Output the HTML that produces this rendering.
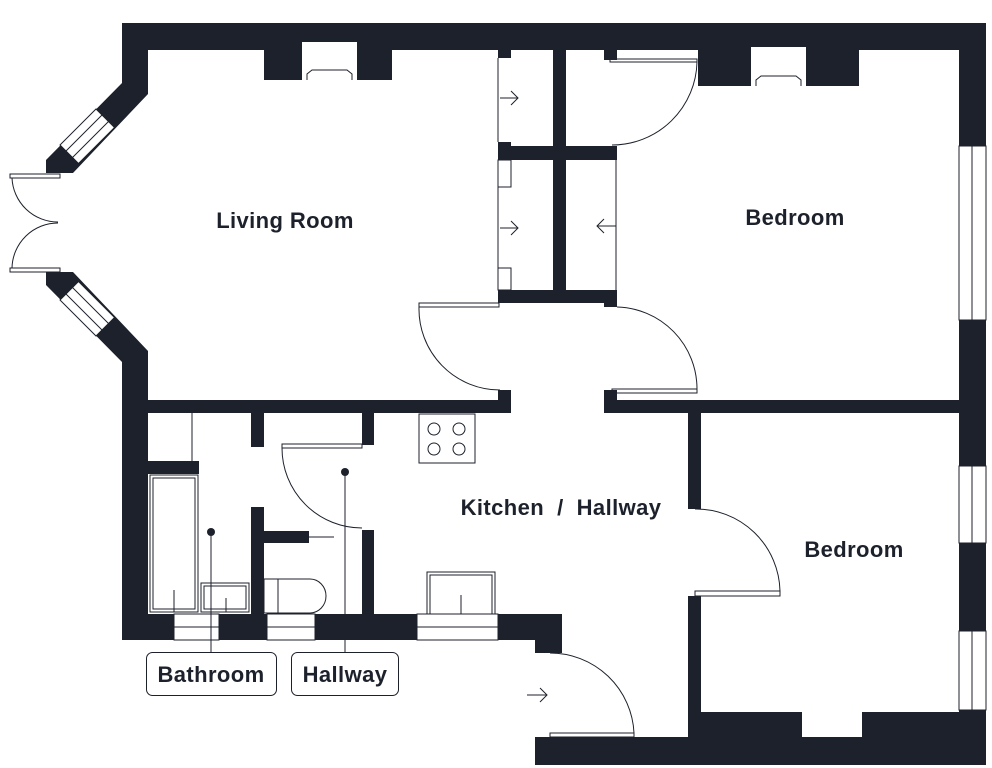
<!DOCTYPE html>
<html><head><meta charset="utf-8"><style>
html,body{margin:0;padding:0;background:#fff;}
svg{display:block}
text{font-family:"Liberation Sans",sans-serif;font-weight:bold;fill:#1c212b;letter-spacing:0.4px;}
</style></head><body>
<svg width="992" height="768" viewBox="0 0 992 768" xmlns="http://www.w3.org/2000/svg">
<g fill="#1c212b">
<rect x="122" y="23" width="864" height="27"/>
<polygon points="122,23 148,23 148,94 73,173 46,173 46,160 122,83"/>
<polygon points="122,640 148,640 148,351 73,272 46,272 46,285 122,362"/>
<rect x="959" y="23" width="27" height="742"/>
<rect x="264" y="50" width="128" height="30"/>
<rect x="698" y="50" width="161" height="36"/>
<rect x="553" y="50" width="13" height="253"/>
<rect x="498" y="146" width="119" height="14"/>
<rect x="498" y="290" width="119" height="13"/>
<rect x="498" y="50" width="13" height="8"/>
<rect x="498" y="142" width="13" height="18"/>
<rect x="604" y="50" width="13" height="10"/>
<rect x="604" y="290" width="13" height="17"/>
<rect x="148" y="400" width="363" height="13"/>
<rect x="498" y="390" width="13" height="23"/>
<rect x="604" y="400" width="355" height="13"/>
<rect x="604" y="390" width="13" height="23"/>
<rect x="688" y="413" width="13" height="96"/>
<rect x="688" y="596" width="13" height="141"/>
<rect x="535" y="737" width="451" height="28"/>
<rect x="701" y="712" width="101" height="25"/>
<rect x="862" y="712" width="97" height="25"/>
<rect x="251" y="413" width="13" height="34"/>
<rect x="362" y="413" width="12" height="32"/>
<rect x="122" y="461" width="77" height="13"/>
<rect x="251" y="507" width="13" height="107"/>
<rect x="264" y="531" width="45" height="12"/>
<rect x="362" y="530" width="12" height="84"/>
<rect x="122" y="614" width="440" height="26"/>
<rect x="535" y="614" width="27" height="39"/>
</g>
<g fill="#fff" stroke="#1c212b" stroke-width="1">
<rect x="302" y="42" width="55" height="38" stroke="none"/>
<rect x="751" y="47" width="55" height="39" stroke="none"/>
<rect x="174" y="614" width="45" height="26"/>
<rect x="267" y="614" width="48" height="26"/>
<rect x="417" y="614" width="81" height="26"/>
<rect x="959" y="146" width="27" height="174"/>
<rect x="959" y="466" width="27" height="77"/>
<rect x="959" y="631" width="27" height="79"/>
<rect x="802" y="712" width="60" height="25" stroke="none"/>
<polygon points="96,109 114.5,127.5 78.5,163.5 60,145"/>
<polygon points="96,336 114.5,317.5 78.5,281.5 60,300"/>
</g>
<g fill="none" stroke="#1c212b" stroke-width="1">
<path d="M307 80 L307 74 L312 70 L347 70 L352 74 L352 80"/>
<path d="M756 86 L756 80 L761 76 L796 76 L801 80 L801 86"/>
<line x1="174" y1="627" x2="219" y2="627"/>
<line x1="267" y1="627" x2="315" y2="627"/>
<line x1="417" y1="627" x2="498" y2="627"/>
<line x1="972" y1="146" x2="972" y2="320"/>
<line x1="972" y1="466" x2="972" y2="543"/>
<line x1="972" y1="631" x2="972" y2="710"/>
<line x1="102" y1="115" x2="66" y2="151"/>
<line x1="108.5" y1="121.5" x2="72.5" y2="157.5"/>
<line x1="102" y1="330" x2="66" y2="294"/>
<line x1="108.5" y1="323.5" x2="72.5" y2="287.5"/>
<rect x="10" y="174" width="50" height="4"/>
<rect x="10" y="268" width="50" height="4"/>
<path d="M12 178 A46 46 0 0 0 58 222"/>
<path d="M12 268 A46 46 0 0 1 58 223"/>
<line x1="498" y1="58" x2="498" y2="142"/>
<line x1="498" y1="160" x2="498" y2="290"/>
<rect x="498" y="160" width="13" height="27"/>
<rect x="498" y="268" width="13" height="22"/>
<path d="M500 98 L518 98 M511 91 L518 98 L511 105"/>
<path d="M500 228 L518 228 M511 221 L518 228 L511 235"/>
<line x1="616" y1="160" x2="616" y2="290"/>
<path d="M616 226 L597 226 M604 219 L597 226 L604 233"/>
<rect x="610" y="59" width="87" height="3"/>
<path d="M697 62 A85 85 0 0 1 612 145"/>
<rect x="419" y="303" width="80" height="4"/>
<path d="M419 307 A81 81 0 0 0 500 390"/>
<rect x="612" y="389" width="85" height="4"/>
<path d="M617 307 A82 82 0 0 1 697 389"/>
<rect x="695" y="591" width="85" height="5"/>
<path d="M695 509 A84 84 0 0 1 780 591"/>
<rect x="550" y="733" width="84" height="4"/>
<path d="M550 653 A84 84 0 0 1 634 733"/>
<path d="M527 695 L547 695 M540 688 L547 695 L540 702"/>
<rect x="282" y="444" width="80" height="4"/>
<path d="M282 448 A80 80 0 0 0 362 528"/>
<line x1="309" y1="537" x2="334" y2="537"/>
<line x1="192" y1="413" x2="192" y2="461"/>
<rect x="150" y="475" width="48" height="137"/>
<rect x="153" y="478" width="42" height="131"/>
<line x1="174" y1="590" x2="174" y2="612"/>
<rect x="201" y="583" width="48" height="29"/>
<rect x="204" y="586" width="42" height="23"/>
<line x1="226" y1="598" x2="226" y2="612"/>
<path d="M264 579 L310 579 A16 17 0 0 1 310 613 L264 613 Z"/>
<line x1="278" y1="579" x2="278" y2="613"/>
<rect x="419" y="414" width="56" height="49"/>
<circle cx="434" cy="429" r="6"/><circle cx="459" cy="429" r="6"/>
<circle cx="434" cy="449" r="6"/><circle cx="459" cy="449" r="6"/>
<rect x="427" y="572" width="68" height="42"/>
<rect x="430" y="575" width="62" height="39"/>
<line x1="461" y1="595" x2="461" y2="614"/>
<line x1="211" y1="532" x2="211" y2="652"/>
<line x1="345" y1="472" x2="345" y2="652"/>
<rect x="146.5" y="652.5" width="130" height="43" rx="6"/>
<rect x="291.5" y="652.5" width="107" height="43" rx="6"/>
</g>
<circle cx="211" cy="532" r="4" fill="#1c212b"/>
<circle cx="345" cy="472" r="4" fill="#1c212b"/>
<text x="285" y="228" font-size="22" text-anchor="middle">Living Room</text>
<text x="795" y="225" font-size="22" text-anchor="middle">Bedroom</text>
<text x="561" y="515" font-size="22" text-anchor="middle" xml:space="preserve">Kitchen  /  Hallway</text>
<text x="854" y="557" font-size="22" text-anchor="middle">Bedroom</text>
<text x="211" y="682" font-size="22" text-anchor="middle">Bathroom</text>
<text x="345" y="682" font-size="22" text-anchor="middle">Hallway</text>
</svg>
</body></html>
